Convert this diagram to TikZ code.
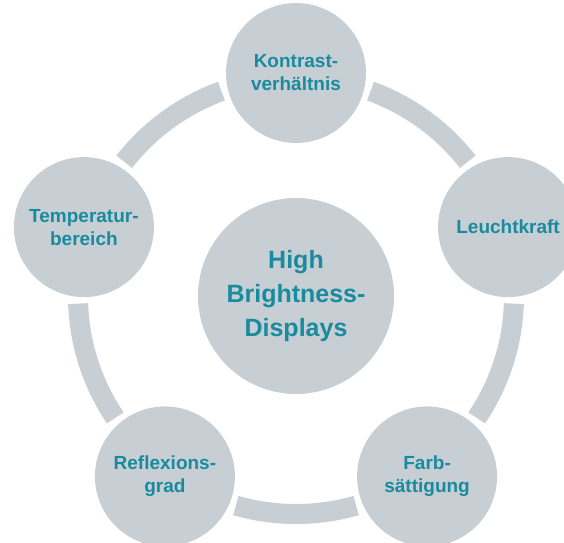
\documentclass[tikz,border=0pt]{standalone}
\usepackage{fontspec}
\setmainfont{Liberation Sans}
\usepackage{xcolor}
\usepackage{tikz}
\usetikzlibrary{positioning}
\definecolor{cgray}{RGB}{200,207,212}
\definecolor{cteal}{RGB}{24,139,158}
\tikzset{
  hubcircle/.style={circle, fill=cgray, minimum size=196pt, inner sep=0pt, align=center, text=cteal, font=\bfseries\fontsize{25}{34}\selectfont},
  topic/.style={circle, fill=cgray, minimum size=140pt, inner sep=0pt, align=center, text=cteal, font=\bfseries\fontsize{19}{23}\selectfont},
  ring/.style={draw=cgray, line width=20pt}
}

\begin{document}
\begin{tikzpicture}
    \useasboundingbox (-296pt,-246pt) rectangle (268pt,296pt);
    \clip (-296pt,-246pt) rectangle (268pt,296pt);

    \node [hubcircle] (hub) at (0,0) {High\\Brightness-\\Displays};

    % ring segments between the topics
    \draw [ring] (hub) ++(70:218pt) arc[start angle=70, end angle=38, radius=218pt];
    \draw [ring] (hub) ++(-2:218pt) arc[start angle=-2, end angle=-34, radius=218pt];
    \draw [ring] (hub) ++(-74:218pt) arc[start angle=-74, end angle=-106, radius=218pt];
    \draw [ring] (hub) ++(-146:218pt) arc[start angle=-146, end angle=-178, radius=218pt];
    \draw [ring] (hub) ++(142:218pt) arc[start angle=142, end angle=110, radius=218pt];

    \node [topic] (kontrast) at (90:223pt) {Kontrast-\\verhältnis};
    \node [topic] (leucht) at (18:223pt) {Leuchtkraft};
    \node [topic] (farb) at (-54:223pt) {Farb-\\sättigung};
    \node [topic] (reflex) at (-126:223pt) {Reflexions-\\grad};
    \node [topic] (temp) at (162:223pt) {Temperatur-\\bereich};
\end{tikzpicture}
\end{document}
